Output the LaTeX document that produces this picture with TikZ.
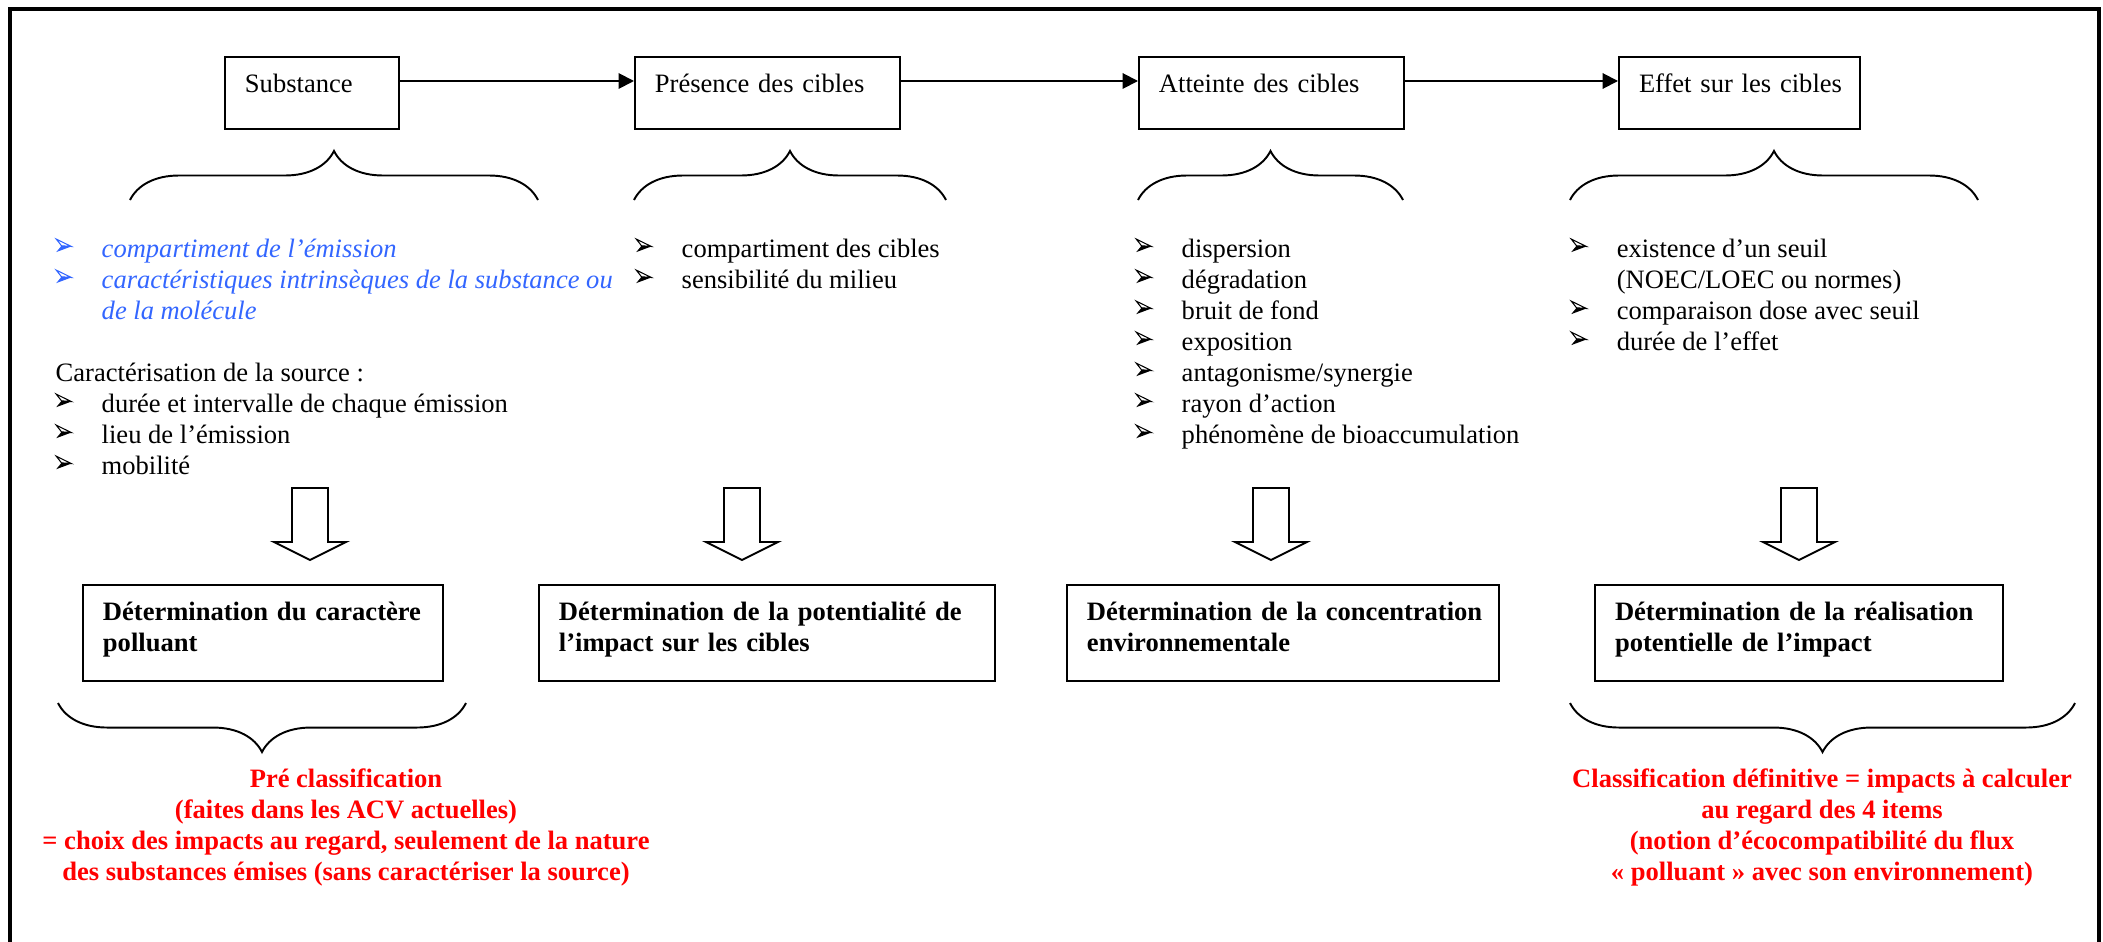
\documentclass[tikz,border=0pt]{standalone}
\usepackage{fontspec}
\setmainfont{Liberation Serif}
\usetikzlibrary{arrows.meta,decorations.pathreplacing}
\definecolor{itemblue}{RGB}{51,102,255}
\definecolor{classred}{RGB}{255,0,0}
\newcommand{\taille}{\fontsize{7.55}{8.82}\selectfont}
\newcommand{\puce}{\makebox[0.46cm][l]{\tikz[x=1pt, y=1pt, baseline=0pt, line width=0.3pt, line join=miter]{
  \draw (0,5.1) -- (4.3,3.0) -- (1.5,3.2) -- cycle;
  \fill (1.5,3.2) -- (4.3,3.0) -- (0,1.4) -- cycle;}}}
\newcommand{\bleu}{\color{itemblue}\itshape}
\newcommand{\bloc}[1]{\begin{tabular}[t]{@{}l@{}}#1\end{tabular}}
\tikzset{
  etape/.style={draw, line width=0.55pt, rectangle, align=left, anchor=north west,
    inner xsep=0.2cm, inner ysep=0pt, text height=0.35cm, text depth=0.37cm},
  bilan/.style={etape, font=\taille\bfseries, text depth=0.61cm},
  liste/.style={inner sep=0pt, anchor=base west},
  classe/.style={inner sep=0pt, anchor=base, text=classred, font=\taille\bfseries},
  accolade/.style={decorate, decoration={brace, amplitude=0.49cm}, line width=0.55pt},
}
\begin{document}
\begin{tikzpicture}[x=0.01cm, y=-0.01cm, font=\taille, line width=0.55pt]
\useasboundingbox (0,0) rectangle (2103,941);
\draw[line width=0.04cm] (10,1000) -- (10,9) -- (2099,9) -- (2099,1000);

% les 4 etapes
\node[etape, text width=1.34cm] (substance) at (224,56) {\bloc{Substance}};
\node[etape, text width=2.25cm] (presence) at (634,56) {\bloc{Présence des cibles}};
\node[etape, text width=2.25cm] (atteinte) at (1138,56) {\bloc{Atteinte des cibles}};
\node[etape, text width=2.01cm] (effet) at (1618,56) {\bloc{Effet sur les cibles}};

\draw[->, >={Triangle[length=4.4pt,width=4.4pt]}] ([yshift=0.12cm]substance.east) -- ([yshift=0.12cm]presence.west);
\draw[->, >={Triangle[length=4.4pt,width=4.4pt]}] ([yshift=0.12cm]presence.east) -- ([yshift=0.12cm]atteinte.west);
\draw[->, >={Triangle[length=4.4pt,width=4.4pt]}] ([yshift=0.12cm]atteinte.east) -- ([yshift=0.12cm]effet.west);

% accolades du haut
\draw[accolade] (130,200) -- (538,200);
\draw[accolade] (634,200) -- (946,200);
\draw[accolade] (1138,200) -- (1403,200);
\draw[accolade] (1570,200) -- (1978,200);

% listes
\node[liste] (l-substance) at (55,257) {\begin{tabular}[t]{@{}l@{}l@{}}
  {\color{itemblue}\puce} & {\bleu compartiment de l’émission}\\
  {\color{itemblue}\puce} & {\bleu caractéristiques intrinsèques de la substance ou}\\
  & {\bleu de la molécule}\\
  & \\
  \multicolumn{2}{@{}l@{}}{Caractérisation de la source :}\\
  \puce & durée et intervalle de chaque émission\\
  \puce & lieu de l’émission\\
  \puce & mobilité
\end{tabular}};
\node[liste] (l-presence) at (635,257) {\begin{tabular}[t]{@{}l@{}l@{}}
  \puce & compartiment des cibles\\
  \puce & sensibilité du milieu
\end{tabular}};
\node[liste] (l-atteinte) at (1135,257) {\begin{tabular}[t]{@{}l@{}l@{}}
  \puce & dispersion\\
  \puce & dégradation\\
  \puce & bruit de fond\\
  \puce & exposition\\
  \puce & antagonisme/synergie\\
  \puce & rayon d’action\\
  \puce & phénomène de bioaccumulation
\end{tabular}};
\node[liste] (l-effet) at (1570,257) {\begin{tabular}[t]{@{}l@{}l@{}}
  \puce & existence d’un seuil\\
  & (NOEC/LOEC ou normes)\\
  \puce & comparaison dose avec seuil\\
  \puce & durée de l’effet
\end{tabular}};

% grosses fleches
\foreach \cx in {310,742,1271,1799}
  \draw (\cx-18,488) -- (\cx+18,488) -- (\cx+18,542) -- (\cx+36,542) -- (\cx,560) -- (\cx-36,542) -- (\cx-18,542) -- cycle;

% determinations
\node[bilan, text width=3.20cm] (caractere) at (82,584) {\bloc{Détermination du caractère\\polluant}};
\node[bilan, text width=4.16cm] (potentialite) at (538,584) {\bloc{Détermination de la potentialité de\\l’impact sur les cibles}};
\node[bilan, text width=3.92cm] (concentration) at (1066,584) {\bloc{Détermination de la concentration\\environnementale}};
\node[bilan, text width=3.68cm] (realisation) at (1594,584) {\bloc{Détermination de la réalisation\\potentielle de l’impact}};

% accolades du bas
\draw[accolade] (466,703) -- (58,703);
\draw[accolade] (2075,703) -- (1570,703);

\node[classe] (preclassif) at (346,787) {\begin{tabular}[t]{@{}c@{}}
  Pré classification\\
  (faites dans les ACV actuelles)\\
  = choix des impacts au regard, seulement de la nature\\
  des substances émises (sans caractériser la source)
\end{tabular}};
\node[classe] (classif) at (1822,787) {\begin{tabular}[t]{@{}c@{}}
  Classification définitive = impacts à calculer\\
  au regard des 4 items\\
  (notion d’écocompatibilité du flux\\
  « polluant » avec son environnement)
\end{tabular}};
\end{tikzpicture}
\end{document}
